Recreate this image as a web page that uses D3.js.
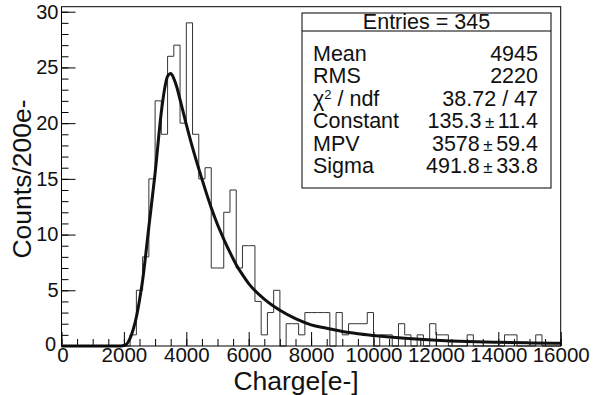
<!DOCTYPE html>
<meta charset="UTF-8">
<html>
<head>
<style>
html, body { margin:0; padding:0; background:#fff; }
svg { display:block; font-family: "Liberation Sans", Arial, Helvetica, sans-serif; }
.hist { fill:none; stroke:#333; stroke-width:1; }
.fit { fill:none; stroke:#111; stroke-width:3; stroke-linejoin:round; }
.frame { fill:none; stroke:#000; stroke-width:1; }
.axis path { display:none; }
.axis line { stroke:#000; }
.axis text { font-size:20.5px; fill:#111; }
.yaxis text { font-size:20px; }
.stat { fill:#fff; stroke:#000; stroke-width:1; }
.stat-text { font-size:21.5px; fill:#111; }
.title { font-size:26.5px; fill:#111; }
</style>
</head>
<body>
<svg width="599" height="395"></svg>
<script src="https://cdn.jsdelivr.net/npm/d3@7"></script>
<script>
// histogram contents, 80 bins of 200 e- from 0 to 16000
var counts = [
  0, 0, 0, 0, 0, 0, 0, 0, 0, 0,
  0, 1, 5, 8,15,22,19,26,27,20,
 29,19,15,16, 7, 7,12,14, 7, 9,
  9, 4, 1, 3, 5, 0, 2, 2, 1, 3,
  3, 3, 3, 0, 3, 1, 2, 2, 2, 3,
  0, 1, 1, 0, 2, 1, 0, 1, 0, 2,
  1, 1, 0, 0, 0, 1, 0, 0, 0, 0,
  0, 1, 1, 0, 0, 0, 1, 0, 0, 0
];
var binWidth = 200;

// landau fit curve
var fitX = [0, 1800, 2000, 2100, 2200, 2300, 2400, 2500, 2600, 2800, 3000, 3200, 3300, 3400, 3500, 3600, 3700, 3800,
            4000, 4200, 4400, 4600, 4800, 5000, 5200, 5400, 5600, 5800, 6000, 6500, 7000, 7500, 8000, 8500,
            9000, 9500, 10000, 11000, 12000, 13000, 14000, 15000, 16000];
var fitY = [0, 0, 0.05, 0.2, 0.7, 1.5, 2.6, 4.1, 5.9, 10.7, 15.5, 21.0, 23.0, 24.2, 24.45, 24.0, 23.2, 22.1,
            19.9, 17.8, 15.9, 14.1, 12.4, 10.9, 9.6, 8.4, 7.3, 6.4, 5.6, 4.2, 3.2, 2.45, 1.9, 1.6,
            1.3, 1.1, 0.95, 0.7, 0.52, 0.4, 0.33, 0.28, 0.24];

var xTicks = [0, 2000, 4000, 6000, 8000, 10000, 12000, 14000, 16000];
var yTicks = [0, 5, 10, 15, 20, 25, 30];

var statTitle = "Entries = 345";
var statNames = ["Mean", "RMS", "chi2", "Constant", "MPV", "Sigma"];
var statVals = ["4945", "2220", "38.72 / 47", "135.3", "3578", "491.8"];
var statErrs = [null, null, null, "11.4", "59.4", "33.8"];

var svg = d3.select("svg");

var x = d3.scaleLinear().domain([0, 16000]).range([61.5, 560.7]);
var y = d3.scaleLinear().domain([0, 30.45]).range([346, 6.7]);

// minor ticks
svg.append("g").attr("class", "axis")
  .attr("transform", "translate(0,346)")
  .call(d3.axisBottom(x).tickValues(d3.range(0, 16001, 500)).tickSize(-7).tickFormat(""));
svg.append("g").attr("class", "axis")
  .attr("transform", "translate(61.5,0)")
  .call(d3.axisLeft(y).tickValues(d3.range(0, 31, 1)).tickSize(-7).tickFormat(""));

// major ticks + labels
var xAxis = svg.append("g").attr("class", "axis")
  .attr("transform", "translate(0,346)")
  .call(d3.axisBottom(x).tickValues(xTicks).tickSize(-14).tickPadding(1.5).tickFormat(d3.format("d")));
var yAxis = svg.append("g").attr("class", "axis yaxis")
  .attr("transform", "translate(61.5,0)")
  .call(d3.axisLeft(y).tickValues(yTicks).tickSize(-14).tickPadding(3).tickFormat(d3.format("d")));

// the two zeros sit in the corner, nudge them apart a bit
yAxis.selectAll(".tick text").filter(function(d) { return d == 0; })
  .attr("x", -5.5).attr("dy", "0.2em");
xAxis.selectAll(".tick text").filter(function(d) { return d == 0; })
  .attr("dx", 1);

// histogram outline
var steps = counts.map(function(c, i) { return [i * binWidth, c]; });
steps.push([counts.length * binWidth, counts[counts.length - 1]]);
var stepLine = d3.line()
  .x(function(d) { return x(d[0]); })
  .y(function(d) { return y(d[1]); })
  .curve(d3.curveStepAfter);
svg.append("path").attr("class", "hist").attr("d", stepLine(steps));

// fit
var fitLine = d3.line()
  .x(function(d, i) { return x(fitX[i]); })
  .y(function(d) { return y(d); })
  .curve(d3.curveMonotoneX);
svg.append("path").attr("class", "fit").attr("d", fitLine(fitY));

// frame
svg.append("rect").attr("class", "frame")
  .attr("x", x(0)).attr("y", y(30.45))
  .attr("width", x(16000) - x(0)).attr("height", y(0) - y(30.45));

// stats box
var bx = 302, by = 13, bw = 249, bh = 175;
svg.append("rect").attr("class", "stat").attr("x", bx).attr("y", by).attr("width", bw).attr("height", bh);
svg.append("line").attr("x1", bx).attr("x2", bx + bw).attr("y1", 31).attr("y2", 31).attr("stroke", "#000");
svg.append("text").attr("class", "stat-text")
  .attr("x", bx + bw / 2).attr("y", 29).attr("text-anchor", "middle").text(statTitle);

statNames.forEach(function(name, i) {
  var ty = 60.5 + i * 22.5;
  var t = svg.append("text").attr("class", "stat-text").attr("x", 313).attr("y", ty);
  if (name == "chi2") {
    t.append("tspan").text("\u03c7");
    t.append("tspan").attr("font-size", "13px").attr("dy", -6.5).text("2");
    t.append("tspan").attr("dy", 6.5).text(" / ndf");
  } else {
    t.text(name);
  }
  var v = svg.append("text").attr("class", "stat-text")
    .attr("x", 538).attr("y", ty).attr("text-anchor", "end");
  v.append("tspan").text(statVals[i]);
  if (statErrs[i]) {
    v.append("tspan").attr("dx", 3.5).attr("font-size", "17px").text("\u00b1");
    v.append("tspan").attr("dx", 3.5).text(statErrs[i]);
  }
});

// axis titles
svg.append("text").attr("class", "title")
  .attr("x", 296).attr("y", 389.5).attr("text-anchor", "middle").text("Charge[e-]");
svg.append("text").attr("class", "title")
  .attr("transform", "translate(31,179) rotate(-90)")
  .attr("text-anchor", "middle").text("Counts/200e-");
</script>
</body>
</html>
